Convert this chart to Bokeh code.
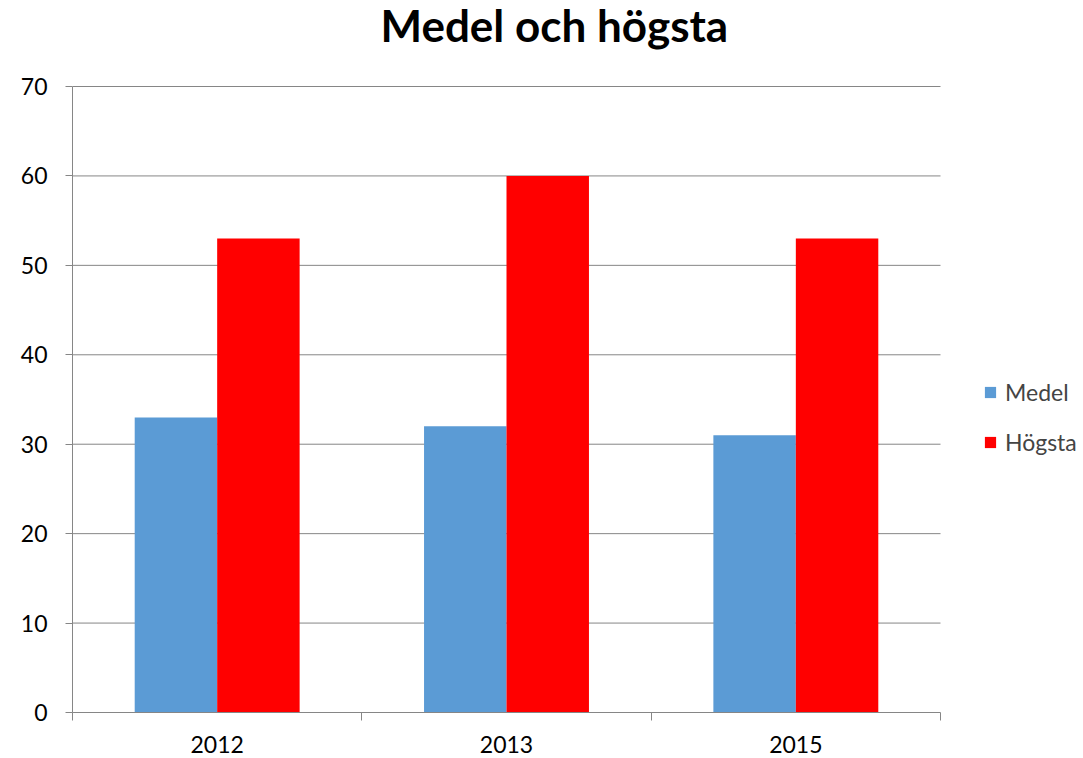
from bokeh.plotting import figure
from bokeh.models import (Range1d, FixedTicker, Legend, LegendItem, ColumnDataSource,
                          Label)
from bokeh.transform import dodge
from bokeh.embed import file_html
from bokeh.resources import INLINE

title_text = "Medel och högsta"
years = ["2012", "2013", "2015"]
medel = [33, 32, 31]
hogsta = [53, 60, 53]
y_ticks = [0, 10, 20, 30, 40, 50, 60, 70]

FONT = "Lato"
GRAY = "#868686"

n = len(years)
y_max = y_ticks[-1]
centers = [i + 0.5 for i in range(n)]
src = ColumnDataSource(dict(x=centers, medel=medel, hogsta=hogsta))

# The frame covers the whole canvas except the axis borders; the value
# area (0..n, 0..70) sits inside it, leaving room for title and legend.
W, H = 1083, 758
LEFT, BOTTOM = 72, 46
PLOT_W, PLOT_H = 868, 626
x_end = n * (W - LEFT) / PLOT_W
y_end = y_max * (H - BOTTOM) / PLOT_H

p = figure(width=W, height=H, output_backend="svg", toolbar_location=None,
           x_range=Range1d(0, x_end), y_range=Range1d(0, y_end),
           min_border_left=LEFT, min_border_right=0, min_border_top=0,
           min_border_bottom=BOTTOM)
p.outline_line_color = None
p.background_fill_color = "white"
p.border_fill_color = "white"

# horizontal gridlines limited to the value area
grid_y = y_ticks[1:]
p.segment(x0=[0] * len(grid_y), x1=[n] * len(grid_y), y0=grid_y, y1=grid_y,
          line_color=GRAY, line_width=1)

bw = 0.285
r1 = p.vbar(x=dodge("x", -bw / 2, range=p.x_range), top="medel", width=bw,
            source=src, color="#5B9BD5", line_color=None)
r2 = p.vbar(x=dodge("x", bw / 2, range=p.x_range), top="hogsta", width=bw,
            source=src, color="#FF0000", line_color=None)

# title (screen units relative to the frame's bottom-left)
p.add_layout(Label(x=308, y=688, x_units="screen", y_units="screen",
                   text=title_text, text_font=FONT, text_font_size="44px",
                   text_font_style="bold", text_color="black",
                   text_align="left", text_baseline="alphabetic"))

# x axis: labels at category centers, ticks at boundaries (minor ticks)
p.xaxis.bounds = (0, n)
p.xaxis.ticker = FixedTicker(ticks=centers, minor_ticks=list(range(n + 1)))
p.xaxis.major_label_overrides = {c: y for c, y in zip(centers, years)}
p.xaxis.major_tick_out = 0
p.xaxis.major_tick_in = 0
p.xaxis.minor_tick_out = 8
p.xaxis.minor_tick_in = 0
p.xaxis.minor_tick_line_color = GRAY
p.xaxis.axis_line_color = GRAY
p.xaxis.major_label_text_font = FONT
p.xaxis.major_label_text_font_size = "23px"
p.xaxis.major_label_text_color = "black"
p.xaxis.major_label_standoff = 15

p.yaxis.bounds = (0, y_max)
p.yaxis.ticker = FixedTicker(ticks=y_ticks)
p.yaxis.major_tick_out = 7
p.yaxis.major_tick_in = 0
p.yaxis.major_tick_line_color = GRAY
p.yaxis.minor_tick_line_color = None
p.yaxis.axis_line_color = GRAY
p.yaxis.major_label_text_font = FONT
p.yaxis.major_label_text_font_size = "23px"
p.yaxis.major_label_text_color = "black"
p.yaxis.major_label_standoff = 18

p.xgrid.grid_line_color = None
p.ygrid.grid_line_color = None

legend = Legend(items=[LegendItem(label="Medel", renderers=[r1]),
                       LegendItem(label="Högsta", renderers=[r2])],
                location=(911, 256), margin=0, padding=0, spacing=22,
                glyph_width=14, glyph_height=14, label_height=22,
                label_text_font=FONT, label_text_font_size="23px",
                label_standoff=8, border_line_color=None,
                background_fill_alpha=0)
p.add_layout(legend, "center")

open("out.html", "w").write(file_html(p, INLINE))
